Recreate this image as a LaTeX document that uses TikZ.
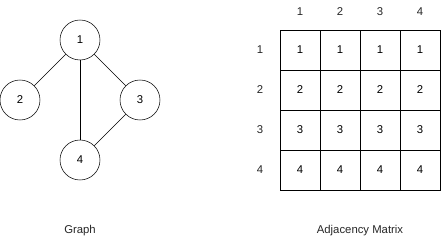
\documentclass[tikz,border=0pt]{standalone}
\usepackage{fontspec}
\setmainfont{Liberation Sans}
\usetikzlibrary{positioning}

\begin{document}
\begin{tikzpicture}[
    x=0.75pt, y=-0.75pt,
    font=\fontsize{8.5}{10}\selectfont,
    % Styles for graph and matrix
    vertex/.style={draw, circle, thin, minimum size=30pt, inner sep=0pt},
    edge/.style={thin, draw=black},
    cell/.style={draw, thin, minimum size=30pt, inner sep=0pt},
    label/.style={text=black!85}
]
    \useasboundingbox (0,0) rectangle (441,241);

        % --- Vertices ---
        \node[vertex] (v1) at (80, 40) {1};
        \node[vertex] (v2) at (20, 100) {2};
        \node[vertex] (v3) at (140, 100) {3};
        \node[vertex] (v4) at (80, 160) {4};

        % --- Edges ---
        \draw[edge] (v1) -- (v2);
        \draw[edge] (v1) -- (v3);
        \draw[edge] (v1) -- (v4);
        \draw[edge] (v3) -- (v4);

        \node[label] (graphtitle) at (80, 231) {Graph};

        % --- Adjacency Matrix ---
        \foreach \r in {1,...,4} {
            \node[label] (row\r) at (260, 10+40*\r) {\r};
            \node[label] (col\r) at (260+40*\r, 12) {\r};
            \foreach \c in {1,...,4}
                \node[cell] (m\r\c) at (260+40*\c, 10+40*\r) {\r};
        }

        \node[label] (matrixtitle) at (360, 231) {Adjacency Matrix};

    \end{tikzpicture}
\end{document}
